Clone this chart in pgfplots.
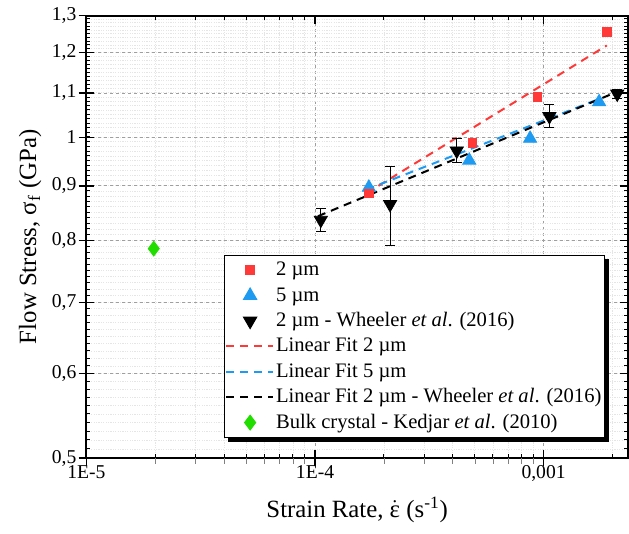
\documentclass[border=0pt]{standalone}
\usepackage{fontspec}
\setmainfont{Liberation Serif}
\usepackage{pgfplots}
\pgfplotsset{compat=1.18}

\definecolor{cRed}{RGB}{255,56,56}
\definecolor{cBlue}{RGB}{30,155,240}
\definecolor{cGreen}{RGB}{34,221,0}

\pgfplotsset{
  myframe/.style={
    at={(0pt,0pt)}, anchor=south west,
    width=270.75pt, height=221.15pt, scale only axis,
    xmin=1e-5, xmax=2.34e-3, ymin=0.5, ymax=1.3,
    xtick={1e-5,1e-4,1e-3},
    ytick={0.5,0.6,0.7,0.8,0.9,1,1.1,1.2,1.3},
  },
  marklegend/.style={legend image code/.code={
    \path[draw=none] (0pt,0pt) -- (24pt,0pt);
    \draw[mark repeat=2,mark phase=2,##1] plot coordinates {(0pt,0pt)(12.5pt,0pt)(25pt,0pt)};}},
  linelegend/.style={legend image code/.code={
    \path[draw=none] (0pt,0pt) -- (24pt,0pt);
    \draw[##1] (0.5pt,0pt) -- (24pt,0pt);}},
  fit/.style={line width=1pt, dash pattern=on 4pt off 3pt},
}

\begin{document}
\begin{tikzpicture}
\path[use as bounding box] (-43.25pt,-38pt) rectangle (271.25pt,229pt);

\begin{axis}[
  xmode=log, ymode=log,
  myframe,
  xticklabels={1E-5,1E-4,{0,001}},
  yticklabels={{0,5},{0,6},{0,7},{0,8},{0,9},{1},{1,1},{1,2},{1,3}},
  minor xtick={2e-5,3e-5,4e-5,5e-5,6e-5,7e-5,8e-5,9e-5,
               2e-4,3e-4,4e-4,5e-4,6e-4,7e-4,8e-4,9e-4,2e-3},
  minor ytick={0.51,0.52,...,1.295},
  tick align=inside,
  major tick length=4pt, minor tick length=2pt,
  every major tick/.append style={line width=0.6pt, black},
  every minor tick/.append style={line width=0.5pt, black},
  axis line style={line width=1pt},
  grid=both,
  major grid style={gray!75, line width=0.5pt, dash pattern=on 1.5pt off 1.5pt},
  minor grid style={gray!20, line width=0.3pt, dash pattern=on 0.6pt off 0.6pt},
  /pgf/number format/assume math mode=true,
  tick label style={font=\fontsize{9.8}{11}\selectfont},
  yticklabel style={xshift=-1.5pt},
  label style={font=\fontsize{12.4}{14}\selectfont},
  xlabel={Strain Rate, $\dot{\mbox{ε}}$ (s\textsuperscript{-1})},
  ylabel={Flow Stress, σ\textsubscript{f} (GPa)},
  xlabel style={at={(axis description cs:0.5,-0.118)}, anchor=center},
  ylabel style={at={(axis description cs:-0.104,0.5)}, anchor=center},
  legend cell align=left,
  legend style={name=leg, at={(0.9575,0.459)}, anchor=north east,
    draw=black, line width=0.5pt, fill=white,
    font=\fontsize{10.3}{12}\selectfont,
    inner xsep=0.5pt, inner ysep=1pt, row sep=0pt, column sep=0pt,
    nodes={inner xsep=1pt, inner ysep=0.6pt, text height=8.5pt, text depth=3.0pt}},
]

\addlegendimage{marklegend, only marks, mark=square*, mark size=2.1pt, color=cRed}
\addlegendentry{2 µm}
\addlegendimage{marklegend, only marks, mark=triangle*, mark size=3.8pt, color=cBlue}
\addlegendentry{5 µm}
\addlegendimage{marklegend, only marks, mark=triangle*, mark size=3.8pt, black, mark options={rotate=180}}
\addlegendentry{2 µm - Wheeler \textit{et al}. (2016)}
\addlegendimage{linelegend, fit, cRed}
\addlegendentry{Linear Fit 2 µm}
\addlegendimage{linelegend, fit, cBlue}
\addlegendentry{Linear Fit 5 µm}
\addlegendimage{linelegend, fit, black}
\addlegendentry{Linear Fit 2 µm - Wheeler \textit{et al}. (2016)}
\addlegendimage{marklegend, only marks, mark=diamond*, mark size=3.7pt, color=cGreen}
\addlegendentry{Bulk crystal - Kedjar \textit{et al}. (2010)}

% linear fits
\addplot[forget plot, fit, cRed, no markers] coordinates {(1.68e-4,0.886) (1.89e-3,1.219)};
\addplot[forget plot, fit, cBlue, no markers] coordinates {(1.68e-4,0.893) (1.77e-3,1.087)};
\addplot[forget plot, fit, black, no markers] coordinates {(1.03e-4,0.843) (2.12e-3,1.104)};

% bulk crystal
\addplot[forget plot, only marks, mark=diamond*, mark size=3.7pt, color=cGreen]
  coordinates {(1.97e-5,0.786)};

% Wheeler 2016 with error bars
\addplot[forget plot, only marks, mark=triangle*, mark size=3.8pt, black,
  mark options={rotate=180},
  error bars/.cd, y dir=both, y explicit,
  error bar style={line width=0.5pt, black},
  error mark options={rotate=90, mark size=2.5pt, line width=0.5pt, black}]
  coordinates {
  (1.06e-4,0.836) +- (0,0.021)
  (2.13e-4,0.865) +- (0,0.074)
  (4.17e-4,0.971) +- (0,0.025)
  (1.06e-3,1.046) +- (0,0.026)
  (2.10e-3,1.098) +- (0,0.010)
  };

% 5 um
\addplot[forget plot, only marks, mark=triangle*, mark size=3.8pt, color=cBlue]
  coordinates {(1.72e-4,0.897) (4.73e-4,0.951) (8.73e-4,0.997) (1.75e-3,1.079)};

% 2 um
\addplot[forget plot, only marks, mark=square*, mark size=2.1pt, color=cRed]
  coordinates {(1.72e-4,0.885) (4.88e-4,0.988) (9.37e-4,1.091) (1.89e-3,1.255)};

\end{axis}

% outward halves of the major ticks on the left and bottom
\begin{axis}[
  xmode=log, ymode=log,
  myframe,
  xticklabels={}, yticklabels={},
  minor xtick={}, minor ytick={},
  axis line style={draw=none},
  tick align=outside, major tick length=4pt,
  every major tick/.append style={line width=0.6pt, black},
  xtick pos=left, ytick pos=left,
]
\end{axis}

% legend shadow (right and bottom strips)
\fill[black] ([yshift=-2pt]leg.north east) rectangle ([xshift=2pt,yshift=-2pt]leg.south east);
\fill[black] ([xshift=2pt,yshift=-2pt]leg.south west) rectangle (leg.south east);
\end{tikzpicture}
\end{document}
